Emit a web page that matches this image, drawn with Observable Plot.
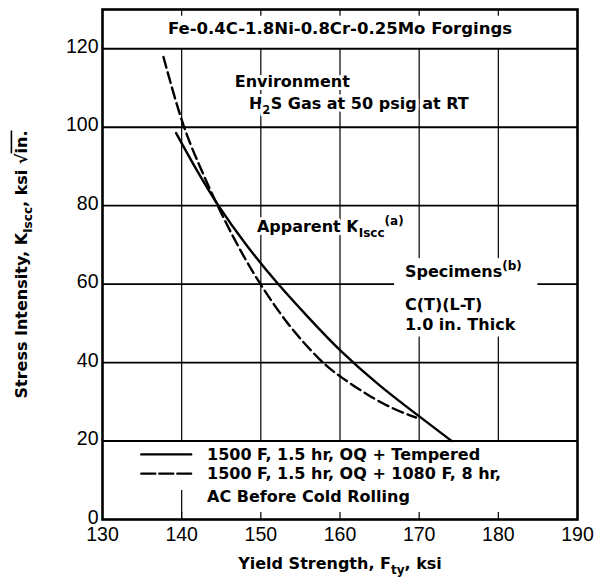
<!DOCTYPE html>
<html><head><meta charset="utf-8">
<script src="https://cdn.jsdelivr.net/npm/d3@7"></script>
<script src="https://cdn.jsdelivr.net/npm/@observablehq/plot@0.6"></script>
<style>
html,body{margin:0;padding:0;background:#fff}
#chart svg{display:block}
</style>
</head><body><div id="chart"></div>
<script>
// ---- data ----
const xTicks = [130, 140, 150, 160, 170, 180, 190];
const yTicks = [0, 20, 40, 60, 80, 100, 120];
const gridX = [140, 150, 160, 170, 180];
const gridY = [20, 40, 60, 80, 100, 120];

// 1500 F, 1.5 hr, OQ + Tempered (solid)
const solidX = [139.3, 142.0, 144.5, 148.0, 152.0, 156.0, 160.0, 165.0, 170.0, 174.1];
const solidY = [98.5, 88.6, 80.2, 70.2, 60.3, 51.5, 42.9, 34.0, 26.3, 20.0];
// 1500 F, 1.5 hr, OQ + 1080 F, 8 hr, AC Before Cold Rolling (dashed)
const dashedX = [137.7, 140.1, 142.3, 144.5, 147.0, 149.7, 153.6, 157.7, 160.0, 163.7, 167.1, 169.6];
const dashedY = [117.9, 100.3, 89.9, 80.0, 70.0, 60.5, 49.0, 40.0, 36.4, 31.4, 27.8, 26.0];

const titleText = "Fe-0.4C-1.8Ni-0.8Cr-0.25Mo Forgings";
const xTitle = "Yield Strength, F_{ty}, ksi";
const yTitle = "Stress Intensity, K_{Iscc}, ksi √~{in.}";

const noteText = ["Environment", "H_{2}S Gas at 50 psig at RT", "Apparent K_{Iscc}^{(a)}", "Specimens^{(b)}", "C(T)(L-T)", "1.0 in. Thick"];
const noteX = [146.7, 148.5, 149.5, 168.2, 168.2, 168.2];
const noteY = [111.5, 105.9, 74.6, 63.1, 54.6, 49.5];

const legendText = ["1500 F, 1.5 hr, OQ + Tempered", "1500 F, 1.5 hr, OQ + 1080 F, 8 hr,", "AC Before Cold Rolling"];
const legendRowY = [16.6, 11.7, 5.7];
const legendLineX = [134.9, 141.2];
const legendTextX = 143.2;

// ---- build tables ----
const solid = solidX.map((x, i) => ({x, y: solidY[i]}));
const dashed = dashedX.map((x, i) => ({x, y: dashedY[i]}));
const notes = noteText.map((t, i) => ({t, x: noteX[i], y: noteY[i]}));
const legendRows = legendText.map((t, i) => ({t, y: legendRowY[i]}));
const legSolid = legendLineX.map(x => ({x, y: legendRowY[0]}));
const legDashed = legendLineX.map(x => ({x, y: legendRowY[1]}));

const bold = {fontFamily: "DejaVu Sans", fontWeight: "bold", fill: "black"};

const chart = Plot.plot({
  width: 598, height: 577,
  marginLeft: 102, marginRight: 21, marginTop: 9, marginBottom: 58,
  x: {domain: [130, 190], axis: null},
  y: {domain: [0, 130], axis: null},
  style: {background: "white", fontFamily: "DejaVu Sans"},
  marks: [
    Plot.ruleX(gridX, {y1: 20, y2: 120, stroke: "black", strokeWidth: 1.2}),
    Plot.ruleX(gridX, {y1: 0, y2: 1.8, stroke: "black", strokeWidth: 1.2}),
    Plot.ruleX(gridX, {y1: 128.3, y2: 130, stroke: "black", strokeWidth: 1.2}),
    Plot.ruleX([140], {y1: 0, y2: 7.4, stroke: "black", strokeWidth: 1.2}),
    Plot.ruleY(gridY, {stroke: "black", strokeWidth: 1.9}),
    Plot.rect([{x1: 166.9, x2: 185, y1: 46.5, y2: 66.5}], {x1: "x1", x2: "x2", y1: "y1", y2: "y2", fill: "white"}),
    Plot.line(solid, {x: "x", y: "y", curve: "basis", stroke: "black", strokeWidth: 2.4}),
    Plot.line(dashed, {x: "x", y: "y", curve: "basis", stroke: "black", strokeWidth: 2.4, strokeDasharray: "11,5"}),
    Plot.frame({stroke: "black", strokeWidth: 2.6}),
    // tick labels
    Plot.text(xTicks, {x: d => d, frameAnchor: "bottom", dy: 15, text: d => String(d), fontSize: 19.5, fontFamily: "Liberation Sans", lineAnchor: "middle", fill: "black"}),
    Plot.text(yTicks, {y: d => d, frameAnchor: "left", dx: -4, dy: -2, textAnchor: "end", text: d => String(d), fontSize: 19.5, fontFamily: "Liberation Sans", lineAnchor: "middle", fill: "black"}),
    // axis titles
    Plot.text([xTitle], {frameAnchor: "bottom", dy: 44, text: d => d, fontSize: 16, lineAnchor: "middle", ...bold}),
    Plot.text([yTitle], {frameAnchor: "left", dx: -81, rotate: -90, textAnchor: "middle", text: d => d, fontSize: 16, lineAnchor: "middle", ...bold}),
    // title in box
    Plot.text([titleText], {x: 160, y: 125, text: d => d, fontSize: 16.5, lineAnchor: "middle", ...bold}),
    // annotations
    Plot.text(notes, {x: "x", y: "y", text: "t", textAnchor: "start", fontSize: 16, lineAnchor: "middle", stroke: "white", strokeWidth: 6, paintOrder: "stroke", ...bold}),
    // legend
    Plot.line(legSolid, {x: "x", y: "y", stroke: "black", strokeWidth: 2.4}),
    Plot.line(legDashed, {x: "x", y: "y", stroke: "black", strokeWidth: 2.4, strokeDasharray: "14,4"}),
    Plot.text(legendRows, {x: legendTextX, y: "y", text: "t", textAnchor: "start", fontSize: 16, lineAnchor: "middle", ...bold})
  ]
});
document.getElementById("chart").appendChild(chart);

// rich text: _{sub}, ^{sup}, ~{overline}
function richify(svg) {
  svg.querySelectorAll("text").forEach(t => {
    const s = t.textContent;
    if (!/[_^~]\{/.test(s)) return;
    const fs = parseFloat(getComputedStyle(t).fontSize) || 16;
    while (t.firstChild) t.removeChild(t.firstChild);
    const re = /([_^~])\{([^}]*)\}/g;
    let last = 0, m, shift = 0;
    const add = (txt, kind) => {
      const ts = document.createElementNS("http://www.w3.org/2000/svg", "tspan");
      const target = kind === "_" ? fs * 0.32 : kind === "^" ? -fs * 0.42 : 0;
      const dy = target - shift;
      if (dy) ts.setAttribute("dy", dy);
      shift = target;
      if (kind === "_" || kind === "^") ts.setAttribute("font-size", fs * 0.75);
      if (kind === "~") ts.setAttribute("style", "text-decoration: overline");
      ts.textContent = txt;
      t.appendChild(ts);
    };
    while ((m = re.exec(s))) {
      if (m.index > last) add(s.slice(last, m.index), "");
      add(m[2], m[1]);
      last = re.lastIndex;
    }
    if (last < s.length) add(s.slice(last), "");
  });
}
richify(chart);
</script>
</body></html>
